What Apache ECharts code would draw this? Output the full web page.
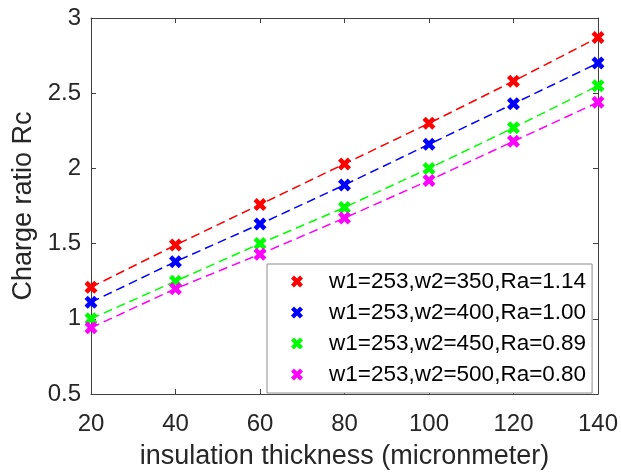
<!DOCTYPE html>
<html>
<head>
<meta charset="utf-8">
<script src="https://cdn.jsdelivr.net/npm/echarts@6/dist/echarts.min.js"></script>
<style>
html,body{margin:0;padding:0;background:#fff;}
#chart{width:621px;height:475px;}
</style>
</head>
<body>
<div id="chart"></div>
<script>
const thickness = [20, 40, 60, 80, 100, 120, 140];
const seriesNames = [
  'w1=253,w2=350,Ra=1.14',
  'w1=253,w2=400,Ra=1.00',
  'w1=253,w2=450,Ra=0.89',
  'w1=253,w2=500,Ra=0.80'
];
const rcRa114 = [1.21, 1.49, 1.76, 2.03, 2.30, 2.58, 2.87];
const rcRa100 = [1.11, 1.38, 1.63, 1.89, 2.16, 2.43, 2.70];
const rcRa089 = [1.00, 1.25, 1.50, 1.74, 2.00, 2.27, 2.55];
const rcRa080 = [0.94, 1.20, 1.43, 1.67, 1.92, 2.18, 2.44];
const seriesValues = [rcRa114, rcRa100, rcRa089, rcRa080];
const colors = ['#ff0000', '#0000ff', '#00ff00', '#ff00ff'];
const xTitle = 'insulation thickness (micronmeter)';
const yTitle = 'Charge ratio Rc';

const FONT = "'Liberation Sans', Arial, sans-serif";
const TXT = '#262626';
const AX = '#404040';
const xMark = 'path://M3,0 L6,3 L9,0 L12,3 L9,6 L12,9 L9,12 L6,9 L3,12 L0,9 L3,6 L0,3 Z';

const chart = echarts.init(document.getElementById('chart'), null, {renderer: 'canvas'});

const series = seriesNames.map((name, i) => ({
  name: name,
  type: 'line',
  xAxisIndex: 0,
  yAxisIndex: 0,
  data: thickness.map((x, j) => [x, seriesValues[i][j]]),
  symbol: xMark,
  symbolSize: 13,
  showAllSymbol: true,
  itemStyle: {color: colors[i], borderWidth: 0},
  lineStyle: {color: colors[i], width: 1.5, type: [9, 5]},
  animation: false,
  z: 3
}));

const baseAxisLine = {show: true, lineStyle: {color: AX, width: 1}};
const baseTick = {show: true, inside: true, length: 5, lineStyle: {color: AX, width: 1}};

chart.setOption({
  animation: false,
  backgroundColor: '#ffffff',
  grid: {left: 91, right: 22, top: 18, bottom: 78, containLabel: false},
  xAxis: [{
    type: 'value', min: 20, max: 140, interval: 20, position: 'bottom',
    axisLine: baseAxisLine, axisTick: baseTick, splitLine: {show: false},
    axisLabel: {fontFamily: FONT, fontSize: 24, color: TXT, margin: 18},
    name: xTitle, nameLocation: 'middle', nameGap: 49,
    nameTextStyle: {fontFamily: FONT, fontSize: 27, color: TXT}
  }, {
    type: 'value', min: 20, max: 140, interval: 20, position: 'top',
    axisLine: baseAxisLine, axisTick: baseTick, splitLine: {show: false},
    axisLabel: {show: false}
  }],
  yAxis: [{
    type: 'value', min: 0.5, max: 3, interval: 0.5, position: 'left',
    axisLine: baseAxisLine, axisTick: baseTick, splitLine: {show: false},
    axisLabel: {fontFamily: FONT, fontSize: 24, color: TXT, margin: 10, padding: [4, 0, 0, 0]},
    name: yTitle, nameLocation: 'middle', nameGap: 50, nameRotate: 90,
    nameTextStyle: {fontFamily: FONT, fontSize: 27, color: TXT}
  }, {
    type: 'value', min: 0.5, max: 3, interval: 0.5, position: 'right',
    axisLine: baseAxisLine, axisTick: baseTick, splitLine: {show: false},
    axisLabel: {show: false}
  }],
  legend: {
    orient: 'vertical',
    left: 267, top: 264,
    padding: [6, 6, 7, 24],
    itemGap: 8,
    itemWidth: 48, itemHeight: 12,
    backgroundColor: '#ffffff',
    borderColor: '#8c8c8c', borderWidth: 1,
    textStyle: {fontFamily: FONT, fontSize: 22.5, color: '#000', lineHeight: 22, padding: [0, 0, 0, 3]},
    data: seriesNames.map(n => ({name: n, icon: xMark})),
    selectedMode: false,
    z: 10
  },
  series: series
});
</script>
</body>
</html>
